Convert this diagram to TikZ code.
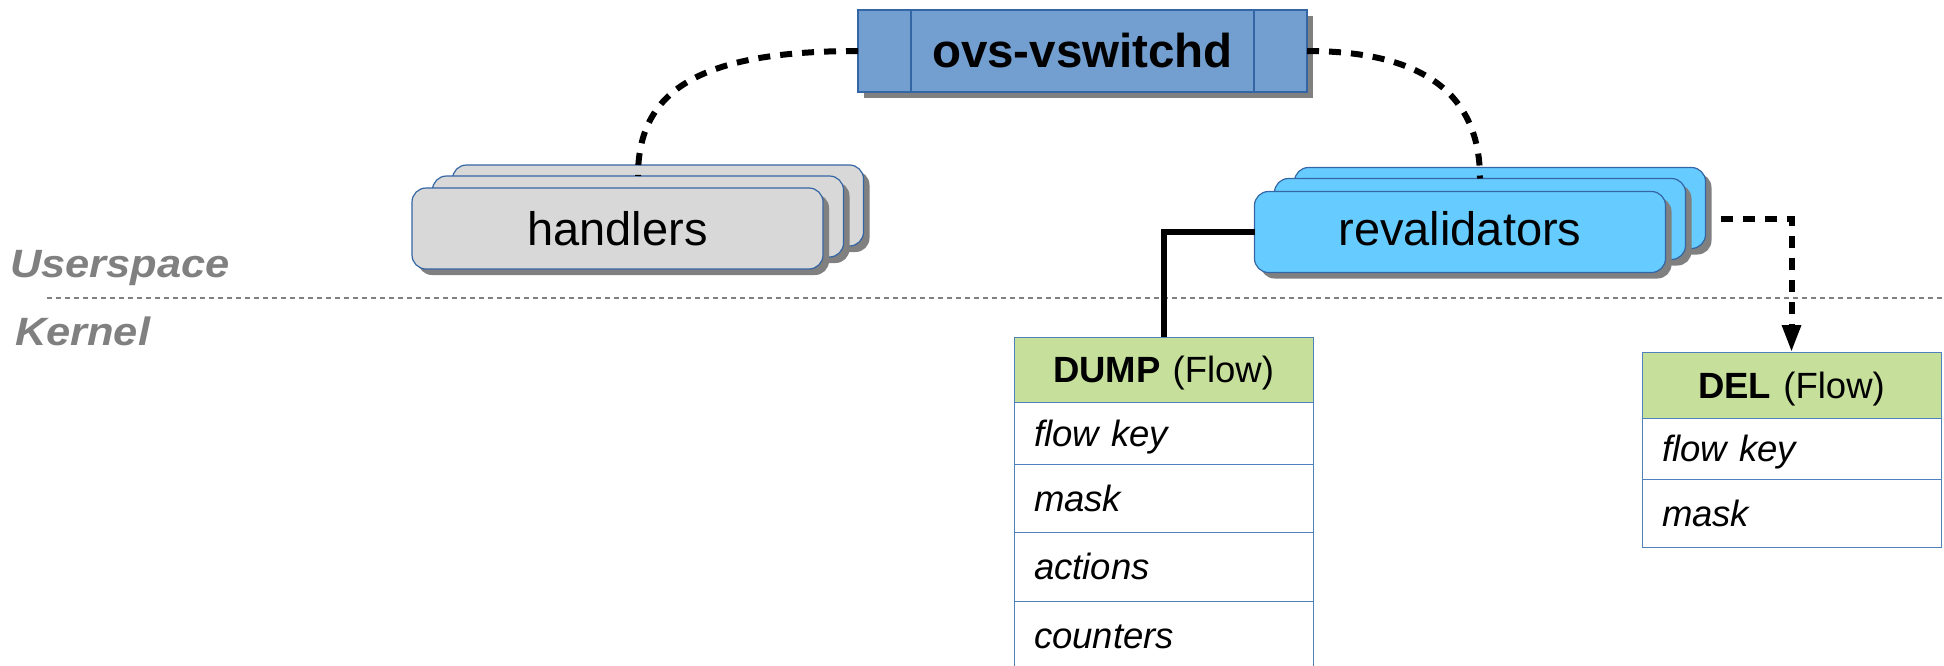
\documentclass[tikz,border=0pt]{standalone}
\usepackage{fontspec}
\setmainfont{Liberation Sans}
\newfontfamily\layerfont[FakeStretch=1.1]{Liberation Sans}
\usetikzlibrary{shadows,arrows.meta}

\definecolor{procfill}{HTML}{729FCF}
\definecolor{procline}{HTML}{3465A4}
\definecolor{handfill}{HTML}{D8D8D8}
\definecolor{revfill}{HTML}{66CCFF}
\definecolor{shade}{HTML}{808080}
\definecolor{tabline}{HTML}{4F81BD}
\definecolor{tabhead}{HTML}{C6E09C}
\definecolor{layergray}{HTML}{808080}

\begin{document}
\begin{tikzpicture}[x=1pt,y=-1pt,
  every node/.style={outer sep=0pt},
  boxshadow/.style={drop shadow={shadow xshift=6pt,shadow yshift=-6pt,fill=shade,opacity=1}},
  process/.style={draw=procline,line width=1.2pt,fill=procfill,
    minimum width=449pt,minimum height=82pt,inner sep=0pt,boxshadow,
    font=\fontsize{47.5}{57}\selectfont\bfseries},
  stackbox/.style={rounded corners=14pt,draw=procline,line width=1.2pt,
    minimum width=411pt,minimum height=81pt,inner sep=0pt,boxshadow,
    font=\fontsize{47}{56}\selectfont},
  handbox/.style={stackbox,fill=handfill},
  revbox/.style={stackbox,fill=revfill},
  cell/.style={rectangle,draw=tabline,line width=1pt,anchor=north,
    text width=259pt,inner xsep=20pt,inner ysep=0pt,align=left,
    text height=27pt,text depth=1pt,
    font=\fontsize{36.5}{44}\selectfont\itshape},
  headcell/.style={cell,fill=tabhead,align=center,font=\fontsize{36.5}{44}\selectfont},
  dashconn/.style={line width=6pt,dash pattern=on 12pt off 10pt},
  solidconn/.style={line width=6pt},
  sepline/.style={draw=layergray,line width=2.4pt,dash pattern=on 5pt off 4pt},
  layerlabel/.style={anchor=base west,inner sep=0pt,text=layergray,
    font=\fontsize{39.5}{47}\layerfont\bfseries\itshape}
]
\useasboundingbox (0,0) rectangle (1944,665);

% user/kernel boundary
\coordinate (sepL) at (47,298);
\coordinate (sepR) at (1944,298);
\draw[sepline] (sepL) -- (sepR);
\node[layerlabel] (us) at (10,277) {Userspace};
\node[layerlabel] (kn) at (15,345) {Kernel};

% daemon
\node[process] (ovs) at (1082.5,51) {ovs-vswitchd};
\draw[procline,line width=1.2pt] ([xshift=53pt]ovs.north west) -- ([xshift=53pt]ovs.south west);
\draw[procline,line width=1.2pt] ([xshift=-53pt]ovs.north east) -- ([xshift=-53pt]ovs.south east);

% handler threads
\node[handbox] (hb) at (658,205.5) {};
\node[handbox] (hm) at (638,216.5) {};
\node[handbox] (hf) at (617.5,228.5) {handlers};

% revalidator threads
\node[revbox] (rb) at (1500,208) {};
\node[revbox] (rm) at (1480,219) {};
\node[revbox,text depth=7pt] (rf) at (1460,232) {revalidators};

% DUMP message
\node[headcell,minimum height=65pt] (dh) at (1163.5,337) {\textbf{DUMP} (Flow)};
\node[cell,minimum height=62pt] (d1) at (dh.south) {flow key};
\node[cell,minimum height=68pt] (d2) at (d1.south) {mask};
\node[cell,minimum height=69pt] (d3) at (d2.south) {actions};
\node[cell,minimum height=68pt] (d4) at (d3.south) {counters};

% DEL message
\node[headcell,minimum height=66pt] (eh) at (1791.5,352) {\textbf{DEL} (Flow)};
\node[cell,minimum height=61pt] (e1) at (eh.south) {flow key};
\node[cell,minimum height=68pt] (e2) at (e1.south) {mask};

% connectors
\draw[dashconn] (ovs.west) .. controls +(-160,0) and +(0,-85) .. (hm.north);
\draw[dashconn] (ovs.east) .. controls +(122,0) and +(0,-80) .. (rm.north);
\draw[solidconn] (rf.west) -| (dh.north);
\draw[dashconn,-{Triangle[length=27pt,width=18pt]}] ([xshift=35pt]rm.east) -| (eh.north);
\end{tikzpicture}
\end{document}
